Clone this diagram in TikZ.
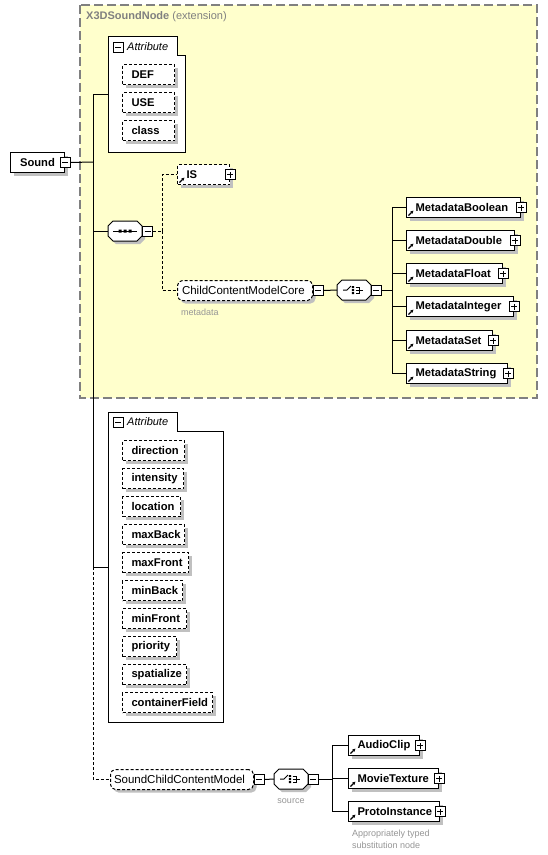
\documentclass[tikz,border=0pt]{standalone}
\usepackage{fontspec}
\setmainfont{Liberation Sans}
\usetikzlibrary{shadows,arrows.meta,calc}
\definecolor{yel}{RGB}{255,255,204}
\definecolor{bordgray}{RGB}{128,128,128}
\definecolor{shad}{RGB}{192,192,192}
\definecolor{txtgray}{RGB}{128,128,128}
\definecolor{notegray}{RGB}{150,150,150}
\tikzset{
 shd/.style={general shadow={fill=shad, shadow xshift=3pt, shadow yshift=-3pt}},
 elembox/.style={draw, fill=white, line width=1pt, minimum height=20pt, inner sep=0pt, shd, font=\fontsize{11.2}{13}\selectfont\bfseries},
 attrbox/.style={elembox, dash pattern=on 3pt off 2pt},
 grpbox/.style={draw, fill=white, line width=1pt, dash pattern=on 3pt off 2pt, rounded corners=5pt, minimum height=20pt, inner sep=0pt, shd, font=\fontsize{11.5}{13}\selectfont},
 octanchor/.style={inner sep=0pt, minimum width=34pt, minimum height=20pt},
 octline/.style={draw, fill=white, line width=1pt},
 mnbox/.style={draw, fill=white, line width=0.8pt, minimum size=10pt, inner sep=0pt,
   path picture={\draw[line width=0.8pt] ([xshift=2pt]path picture bounding box.west) -- ([xshift=-2pt]path picture bounding box.east);}},
 plbox/.style={draw, fill=white, line width=0.8pt, minimum size=10pt, inner sep=0pt,
   path picture={\draw[line width=0.8pt] ([xshift=2pt]path picture bounding box.west) -- ([xshift=-2pt]path picture bounding box.east)
     ([yshift=2pt]path picture bounding box.south) -- ([yshift=-2pt]path picture bounding box.north);}},
 conn/.style={line width=1pt},
 dconn/.style={line width=1pt, dash pattern=on 3pt off 2pt},
 reficon/.style={line width=1.3pt, -{Latex[length=3pt,width=3.5pt]}},
 container/.style={draw, fill=white, line width=1pt},
 hdr/.style={anchor=west, inner sep=0pt, font=\fontsize{11}{13}\selectfont\itshape},
 note/.style={inner sep=0pt, text=notegray, font=\fontsize{9}{12}\selectfont},
}
% element reference: name, x, y, width, text
\newcommand\elemref[5]{%
 \node[elembox, anchor=north west] (#1) at (#2,#3) {\makebox[#4pt][l]{\hspace*{9pt}#5}};
 \node[plbox] (#1p) at (#1.east) {};
 \draw[reficon] ([xshift=2.5pt,yshift=2.5pt]#1.south west) -- ++(5pt,5pt);
}
% attribute: name, x, y, width, text
\newcommand\attrnode[5]{%
 \node[attrbox, anchor=north west] (#1) at (#2,#3) {\makebox[#4pt][l]{\hspace*{9pt}#5}};
}
% octagon compositor: name, cx, cy
\newcommand\octnode[3]{%
 \node[octanchor] (#1) at (#2,#3) {};
 \fill[shad, shift={(#1.center)}, xshift=3pt, yshift=-3pt] (-17,-5) -- (-12,-10) -- (12,-10) -- (17,-5) -- (17,5) -- (12,10) -- (-12,10) -- (-17,5) -- cycle;
 \path[octline, shift={(#1.center)}] (-17,-5) -- (-12,-10) -- (12,-10) -- (17,-5) -- (17,5) -- (12,10) -- (-12,10) -- (-17,5) -- cycle;
}
\newcommand\choiceicon[1]{%
 \begin{scope}[shift={(#1.center)}, line width=1pt]
  \draw (-11,0) -- (-7,0) -- (-3,-4);
  \fill (-2.2,-4) rectangle (0.2,-2) (-2.2,-1) rectangle (0.2,1) (-2.2,2) rectangle (0.2,4);
  \draw (1.5,-3) -- (5.5,-3) -- (5.5,3) -- (1.5,3) (1.5,0) -- (9,0);
 \end{scope}
}
\begin{document}
\begin{tikzpicture}[x=1pt,y=-1pt]
\useasboundingbox (0,0) rectangle (548,855);
\fill[white] (0,0) rectangle (548,855);

% extension box
\draw[fill=yel, draw=bordgray, line width=1.2pt, dash pattern=on 9pt off 4pt] (80,5) rectangle (537,398);
\node[anchor=west, inner sep=0pt, text=txtgray, font=\fontsize{11}{13}\selectfont] (ext) at (86,17) {\textbf{X3DSoundNode} (extension)};

% root
\node[elembox, anchor=north west] (sound) at (10,152) {\makebox[54pt]{Sound}};
\node[mnbox] (soundm) at (sound.east) {};

% attribute group 1
\draw[container] (108,36) -- (177,36) -- (177,55) -- (185,55) -- (185,152) -- (108,152) -- cycle;
\node[mnbox] (a1m) at (118,47) {};
\node[hdr] (a1t) at (127,47) {Attribute};
\attrnode{def}{122}{64}{52}{DEF}
\attrnode{use}{122}{92}{52}{USE}
\attrnode{cls}{122}{120}{52}{class}
\coordinate (attr1in) at (108,94);

% attribute group 2
\draw[container] (108,412) -- (177,412) -- (177,431) -- (223,431) -- (223,722) -- (108,722) -- cycle;
\node[mnbox] (a2m) at (118,422) {};
\node[hdr] (a2t) at (127,422) {Attribute};
\attrnode{direction}{122}{440}{62}{direction}
\attrnode{intensity}{122}{468}{61}{intensity}
\attrnode{location}{122}{496}{58}{location}
\attrnode{maxback}{122}{524}{62}{maxBack}
\attrnode{maxfront}{122}{552}{66}{maxFront}
\attrnode{minback}{122}{580}{60}{minBack}
\attrnode{minfront}{122}{608}{64}{minFront}
\attrnode{priority}{122}{636}{54}{priority}
\attrnode{spatialize}{122}{664}{64}{spatialize}
\attrnode{cfield}{122}{692}{90}{containerField}
\coordinate (attr2in) at (108,567);

% trunk
\coordinate (br) at (93,162);
\coordinate (b3) at (93,567);
\draw[conn] (soundm.east) -- (br);
\draw[conn] (br) |- (attr1in);
\draw[conn] (br) |- (attr2in);

% sequence
\octnode{seq}{125}{231}
\draw[line width=1pt, shift={(seq.center)}] (-12,0) -- (12,0);
\fill[shift={(seq.center)}] (-6.5,-1.5) rectangle (-3.5,1.5) (-1.5,-1.5) rectangle (1.5,1.5) (3.5,-1.5) rectangle (6.5,1.5);
\node[mnbox] (seqm) at ([xshift=5.5pt]seq.east) {};
\draw[conn] (br) |- (seq.west);

% IS
\node[attrbox, anchor=north west] (is) at (177,164) {\makebox[52pt][l]{\hspace*{9pt}IS}};
\node[plbox] (isp) at (is.east) {};
\draw[reficon] ([xshift=2.5pt,yshift=2.5pt]is.south west) -- ++(5pt,5pt);

% ChildContentModelCore
\node[grpbox, anchor=north west] (ccmc) at (177,280) {\makebox[135pt][l]{\hspace*{4.5pt}ChildContentModelCore}};
\node[mnbox] (ccmcm) at ([xshift=5pt]ccmc.east) {};
\node[note, anchor=west] (meta) at (181,312) {metadata};

\coordinate (s1) at (162,231);
\draw[dconn] (seqm.east) -- (s1);
\draw[dconn] (s1) |- (is.west);
\draw[dconn] (s1) |- (ccmc.west);

% choice 1
\octnode{ch1}{354}{290}
\node[mnbox] (ch1m) at ([xshift=5pt]ch1.east) {};
\draw[conn] (ccmcm.east) -- (ch1.west);
\choiceicon{ch1}
\coordinate (c1) at (392,290);
\draw[conn] (ch1m.east) -- (c1);

\elemref{mbool}{406}{197}{114}{MetadataBoolean}
\elemref{mdbl}{406}{230}{108}{MetadataDouble}
\elemref{mflt}{406}{263}{96}{MetadataFloat}
\elemref{mint}{406}{296}{107}{MetadataInteger}
\elemref{mset}{406}{330}{86}{MetadataSet}
\elemref{mstr}{406}{363}{101}{MetadataString}
\foreach \m in {mbool,mdbl,mflt,mint,mset,mstr} \draw[conn] (c1) |- (\m.west);

% SoundChildContentModel
\node[grpbox, anchor=north west] (scm) at (110,769) {\makebox[143pt][l]{\hspace*{3.5pt}SoundChildContentModel}};
\node[mnbox] (scmm) at ([xshift=5pt]scm.east) {};
\draw[dconn] (b3) |- (scm.west);

\octnode{ch2}{291}{779}
\node[mnbox] (ch2m) at ([xshift=5pt]ch2.east) {};
\draw[conn] (scmm.east) -- (ch2.west);
\choiceicon{ch2}
\node[note] (src) at (291,801) {source};
\coordinate (c2) at (332,779);
\draw[conn] (ch2m.east) -- (c2);

\elemref{audio}{348}{735}{71}{AudioClip}
\elemref{movie}{348}{768}{90}{MovieTexture}
\elemref{proto}{348}{801}{91}{ProtoInstance}
\foreach \m in {audio,movie,proto} \draw[conn] (c2) |- (\m.west);
\node[note, anchor=west, align=left] (subst) at (352,839) {Appropriately typed\\substitution node};
\end{tikzpicture}
\end{document}
